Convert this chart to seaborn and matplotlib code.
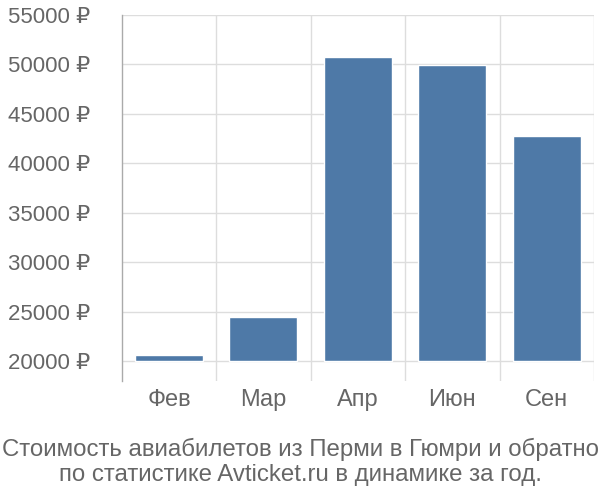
import numpy as np
import pandas as pd
import matplotlib
matplotlib.use('Agg')
import matplotlib.pyplot as plt
import seaborn as sns
from matplotlib.ticker import FixedLocator, FuncFormatter

sns.set_theme(style='white')
plt.rcParams['font.family'] = ['Liberation Sans', 'DejaVu Sans']

months = ['Фев', 'Мар', 'Апр', 'Июн', 'Сен']
prices = [20600, 24480, 50750, 49950, 42750]
yticks = [20000, 25000, 30000, 35000, 40000, 45000, 50000, 55000]
title = 'Стоимость авиабилетов из Перми в Гюмри и обратно\nпо статистике Avticket.ru в динамике за год.'

base = 20000
df = pd.DataFrame({'month': months, 'height': [p - base for p in prices]})

text_col = '#666666'
grid_col = '#dddddd'

fig = plt.figure(figsize=(6, 5), dpi=100)
ax = fig.add_axes([0.203, 0.238, 0.787, 0.732])

sns.barplot(data=df, x='month', y='height', bottom=base, color='#4e79a7',
            saturation=1, width=0.72, ax=ax, zorder=3)

ax.set_ylim(17980, 55000)
ax.set_xlim(-0.5, len(months) - 0.5)
ax.yaxis.set_major_locator(FixedLocator(yticks))
ax.yaxis.set_major_formatter(FuncFormatter(lambda v, p: f'{int(v)} ₽'))
ax.grid(axis='y', color=grid_col, linewidth=1, zorder=0)
ax.set_axisbelow(True)
ax.tick_params(axis='y', length=22, width=1, color=grid_col, labelsize=16,
               labelcolor=text_col, pad=1)
ax.tick_params(axis='x', length=0, labelsize=17, labelcolor=text_col, pad=6)
for b in np.arange(0.5, len(months) - 0.5, 1.0):
    ax.axvline(b, color=grid_col, linewidth=1, zorder=0)
ax.axvline(len(months) - 0.5, color=grid_col, linewidth=1, zorder=0)

for s in ['top', 'right', 'bottom']:
    ax.spines[s].set_visible(False)
ax.spines['left'].set_color('#aaaaaa')
ax.spines['left'].set_linewidth(1)
ax.set_xlabel('')
ax.set_ylabel('')

fig.text(0.5, 0.028, title, ha='center', va='bottom', fontsize=17.3,
         color=text_col, linespacing=1.2)

fig.savefig('out.png', dpi=100)
